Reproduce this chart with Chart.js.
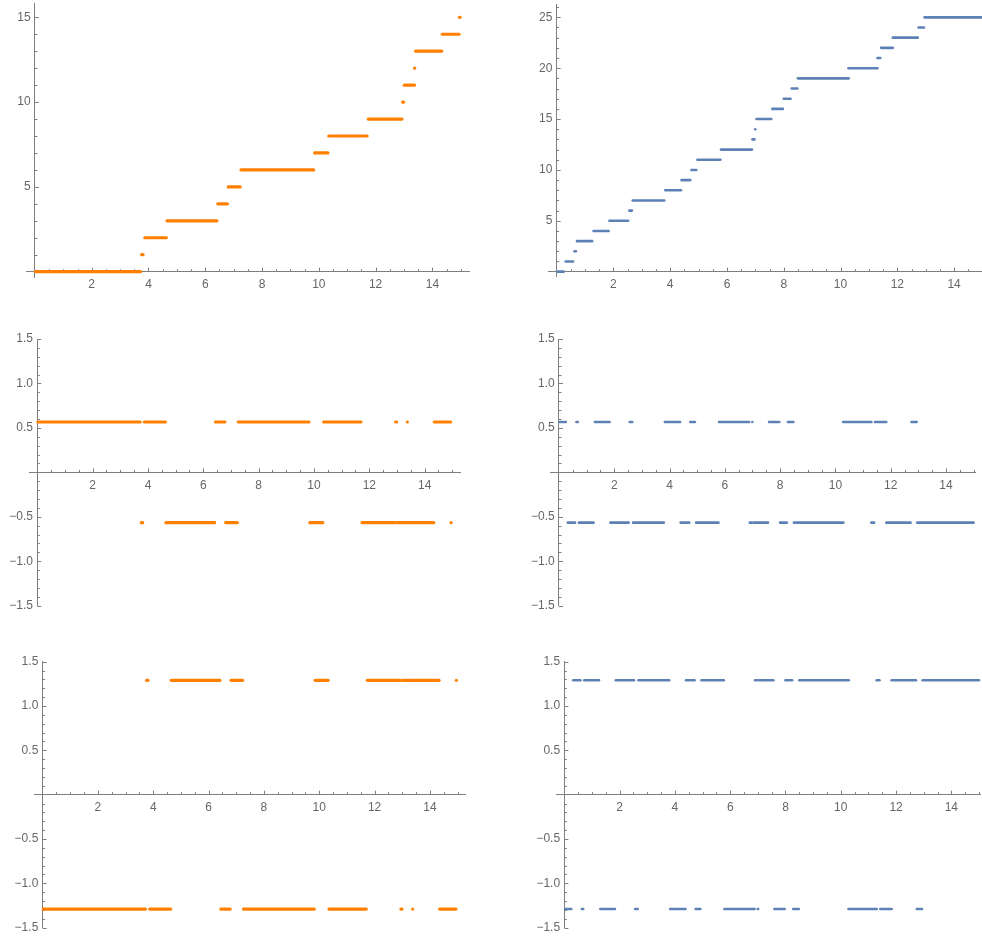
<!DOCTYPE html>
<html><head><meta charset="utf-8">
<script src="https://cdn.jsdelivr.net/npm/chart.js@4.4.1/dist/chart.umd.min.js"></script>
<style>
html,body{margin:0;padding:0;background:#fff;overflow:hidden;width:982px;height:940px;}
canvas{position:absolute;}
</style></head><body>
<canvas id="c1"></canvas><canvas id="c2"></canvas>
<canvas id="c3"></canvas><canvas id="c4"></canvas>
<canvas id="c5"></canvas><canvas id="c6"></canvas>
<script>
// ---------- data ----------
// Left column: step counts 0..15, each held over [start, end]
const leftStepValues = [0,1,2,3,4,5,6,7,8,9,10,11,12,13,14,15];
const leftStepStarts = [0.02,3.76,3.87,4.65,6.44,6.81,7.26,9.85,10.35,11.74,12.95,13.01,13.375,13.41,14.35,14.955];
const leftStepEnds   = [3.72,3.81,4.63,6.41,6.78,7.23,9.82,10.32,11.70,12.93,12.99,13.37,13.385,14.33,14.94,14.975];
// Right column: step counts 0..25
const rightStepValues = [0,1,2,3,4,5,6,7,8,9,10,11,12,13,14,15,16,17,18,19,20,21,22,23,24,25];
const rightStepStarts = [0.03,0.32,0.63,0.72,1.30,1.86,2.56,2.68,3.83,4.40,4.75,4.96,5.79,6.90,6.995,7.04,7.60,8.00,8.28,8.50,10.28,11.30,11.43,11.84,12.75,12.96];
const rightStepEnds   = [0.25,0.58,0.68,1.25,1.83,2.52,2.65,3.79,4.38,4.71,4.92,5.77,6.88,6.97,7.01,7.56,7.97,8.24,8.48,10.29,11.30,11.40,11.84,12.72,12.94,15.0];
// Middle row level for an even / odd step count, bottom row level for even / odd
const middleLevels = [0.566, -0.566];
const bottomLevels = [-1.29, 1.29];
// Tick labels
const xTickLabels = [2,4,6,8,10,12,14];
const yTicksTopLeft = [5,10,15];
const yTicksTopRight = [5,10,15,20,25];
const yTicksSigned = [-1.5,-1.0,-0.5,0.5,1.0,1.5];

const ORANGE = '#ff8000';
const BLUE = '#5e81b5';
const AXIS = '#7f7f7f';
const LABEL = '#666666';
const FONT = {family: '"Liberation Sans", Arial, sans-serif', size: 12};

function fmtSigned(v){ const s = Math.abs(v).toFixed(1); return v < 0 ? '\u2212' + s : s; }

function segDatasets(starts, ends, values, levelOf, color, width){
  return values.map((n, i) => ({
    data: [{x: starts[i], y: levelOf(n)}, {x: ends[i], y: levelOf(n)}],
    borderColor: color, backgroundColor: color, borderWidth: width,
    borderCapStyle: 'round', pointRadius: 0, showLine: true, fill: false, tension: 0
  }));
}

const tickPlugin = {
  id: 'mmaTicks',
  beforeDatasetsDraw(chart, args, opts){
    const ctx = chart.ctx, xs = chart.scales.x, ys = chart.scales.y;
    const y0 = ys.getPixelForValue(0), x0 = xs.getPixelForValue(0);
    ctx.save();
    ctx.strokeStyle = AXIS; ctx.lineWidth = 1;
    ctx.beginPath();
    for (let k = 1; k * opts.xMinor <= xs.max + 1e-9; k++) {
      const v = k * opts.xMinor;
      const major = Math.abs(v / opts.xMajor - Math.round(v / opts.xMajor)) < 1e-6;
      const px = Math.round(xs.getPixelForValue(v)) + 0.5;
      ctx.moveTo(px, y0); ctx.lineTo(px, y0 - (major ? 4 : 2.5));
    }
    const kmin = Math.ceil((ys.min - 1e-9) / opts.yMinor), kmax = Math.floor((ys.max + 1e-9) / opts.yMinor);
    for (let k = kmin; k <= kmax; k++) {
      if (k === 0) continue;
      const v = k * opts.yMinor;
      const major = Math.abs(v / opts.yMajor - Math.round(v / opts.yMajor)) < 1e-6;
      const py = Math.round(ys.getPixelForValue(v)) + 0.5;
      ctx.moveTo(x0, py); ctx.lineTo(x0 + (major ? 4 : 2.5), py);
    }
    ctx.stroke();
    ctx.restore();
  }
};

function makePanel(p){
  const cv = document.getElementById(p.id);
  cv.width = p.w; cv.height = p.h;
  cv.style.left = p.left + 'px'; cv.style.top = p.top + 'px';
  cv.style.width = p.w + 'px'; cv.style.height = p.h + 'px';
  const unitX = (p.w - p.pad.left - p.pad.right) / (p.xr[1] - p.xr[0]);
  new Chart(cv, {
    type: 'scatter',
    data: {datasets: p.datasets},
    options: {
      responsive: false, animation: false, devicePixelRatio: 1,
      layout: {padding: p.pad},
      plugins: {legend: {display: false}, tooltip: {enabled: false}, mmaTicks: p.ticks},
      scales: {
        x: {
          type: 'linear', min: p.xr[0], max: p.xr[1], position: {y: 0},
          grid: {display: false, drawTicks: false},
          border: {display: true, color: AXIS, width: 1},
          afterBuildTicks: s => { s.ticks = xTickLabels.map(v => ({value: v})); },
          ticks: {color: LABEL, font: FONT, padding: 6, maxRotation: 0, autoSkip: false,
                  callback: v => String(v)},
          afterFit: s => { s.height = 0; s.paddingLeft = 0; s.paddingRight = 0; }
        },
        y: {
          type: 'linear', min: p.yr[0], max: p.yr[1], position: {x: 0},
          grid: {display: false, drawTicks: false},
          border: {display: true, color: AXIS, width: 1},
          afterBuildTicks: s => { s.ticks = p.yTicks.map(v => ({value: v})); },
          ticks: {display: false},
          afterFit: s => { s.width = 0; s.paddingTop = 0; s.paddingBottom = 0; }
        },
        yl: {
          axis: 'y', type: 'linear', min: p.yr[0], max: p.yr[1], position: {x: -4.3 / unitX},
          grid: {display: false, drawTicks: false},
          border: {display: false},
          afterBuildTicks: s => { s.ticks = p.yTicks.map(v => ({value: v})); },
          ticks: {color: LABEL, font: FONT, autoSkip: false, callback: p.yFmt},
          afterFit: s => { s.width = 0; s.paddingTop = 0; s.paddingBottom = 0; }
        }
      }
    },
    plugins: [tickPlugin]
  });
}

const intFmt = v => String(v);

makePanel({id:'c1', left:0, top:0, w:491, h:300,
  pad:{left:26.4, right:21.7, top:3.9, bottom:22.9}, xr:[-0.3,15.3], yr:[-0.32,15.79],
  yTicks: yTicksTopLeft, yFmt: intFmt, ticks:{xMinor:0.5, xMajor:2, yMinor:1, yMajor:5},
  datasets: segDatasets(leftStepStarts, leftStepEnds, leftStepValues, n => n, ORANGE, 3.2)});
makePanel({id:'c2', left:491, top:0, w:493, h:300,
  pad:{left:57.1, right:0.1, top:4.1, bottom:23.25}, xr:[-0.3,15.05], yr:[-0.5,26.3],
  yTicks: yTicksTopRight, yFmt: intFmt, ticks:{xMinor:0.5, xMajor:2, yMinor:1, yMajor:5},
  datasets: segDatasets(rightStepStarts, rightStepEnds, rightStepValues, n => n, BLUE, 2.6)});
makePanel({id:'c3', left:0, top:310, w:491, h:310,
  pad:{left:29.0, right:30.4, top:29.0, bottom:14.33}, xr:[-0.3,15.3], yr:[-1.5,1.5],
  yTicks: yTicksSigned, yFmt: fmtSigned, ticks:{xMinor:0.5, xMajor:2, yMinor:0.1, yMajor:0.5},
  datasets: segDatasets(leftStepStarts, leftStepEnds, leftStepValues, n => middleLevels[n % 2], ORANGE, 3.2)});
makePanel({id:'c4', left:491, top:310, w:491, h:310,
  pad:{left:59.7, right:7.0, top:29.0, bottom:14.33}, xr:[-0.3,15.05], yr:[-1.5,1.5],
  yTicks: yTicksSigned, yFmt: fmtSigned, ticks:{xMinor:0.5, xMajor:2, yMinor:0.1, yMajor:0.5},
  datasets: segDatasets(rightStepStarts, rightStepEnds, rightStepValues, n => middleLevels[n % 2], BLUE, 2.6)});
makePanel({id:'c5', left:0, top:630, w:491, h:310,
  pad:{left:34.3, right:25.1, top:31.67, bottom:12.33}, xr:[-0.3,15.3], yr:[-1.5,1.5],
  yTicks: yTicksSigned, yFmt: fmtSigned, ticks:{xMinor:0.5, xMajor:2, yMinor:0.1, yMajor:0.5},
  datasets: segDatasets(leftStepStarts, leftStepEnds, leftStepValues, n => bottomLevels[n % 2], ORANGE, 3.2)});
makePanel({id:'c6', left:491, top:630, w:491, h:310,
  pad:{left:65.1, right:1.1, top:31.67, bottom:12.33}, xr:[-0.3,15.07], yr:[-1.5,1.5],
  yTicks: yTicksSigned, yFmt: fmtSigned, ticks:{xMinor:0.5, xMajor:2, yMinor:0.1, yMajor:0.5},
  datasets: segDatasets(rightStepStarts, rightStepEnds, rightStepValues, n => bottomLevels[n % 2], BLUE, 2.6)});
</script>
</body></html>
